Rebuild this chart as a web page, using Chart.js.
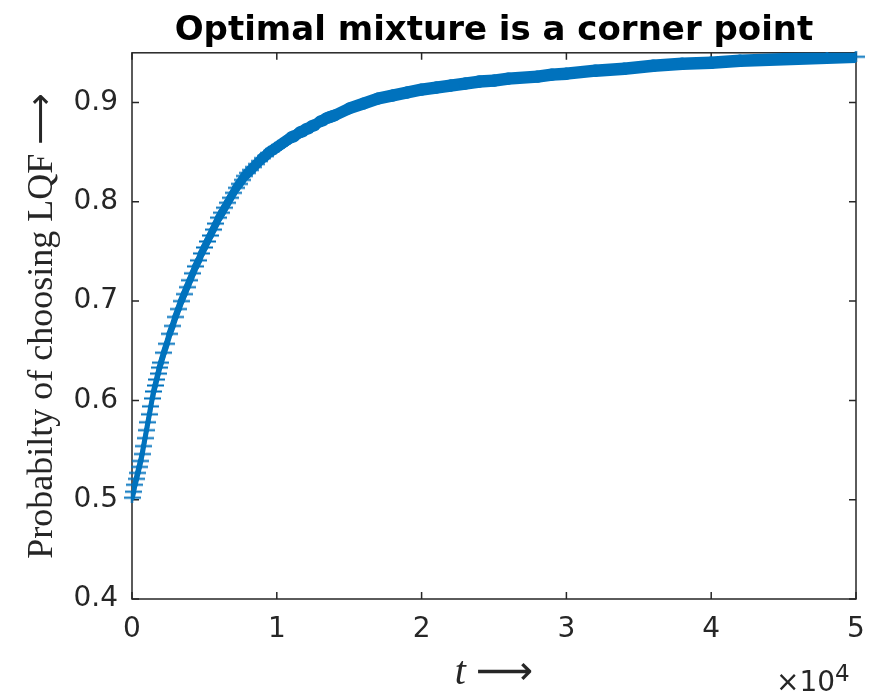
<!DOCTYPE html>
<html>
<head>
<meta charset="utf-8">
<script src="https://cdn.jsdelivr.net/npm/chart.js@4.4.1/dist/chart.umd.min.js"></script>
<style>
  html, body { margin: 0; padding: 0; background: #fff; }
  canvas { display: block; }
</style>
</head>
<body>
<canvas id="chart" width="884" height="694"></canvas>
<script>
// t values (iterations) and probability of choosing LQF
const tValues = [
  0, 100, 200, 300, 400, 500, 600, 700, 800, 900, 1000,
  1100, 1200, 1300, 1400, 1500, 1600, 1700, 1800, 1900, 2000,
  2200, 2400, 2600, 2800, 3000, 3200, 3400, 3600, 3800, 4000,
  4200, 4400, 4600, 4800, 5000, 5200, 5400, 5600, 5800, 6000,
  6200, 6400, 6600, 6800, 7000, 7200, 7400, 7600, 7800, 8000,
  8200, 8400, 8600, 8800, 9000, 9200, 9400, 9600, 9800, 10000,
  10200, 10400, 10600, 10800, 11000, 11200, 11400, 11600, 11800, 12000,
  12200, 12400, 12600, 12800, 13000, 13200, 13400, 13600, 13800, 14000,
  15000, 16000, 17000, 18000, 19000, 20000, 21000, 22000,
  23000, 24000, 25000, 26000, 27000, 28000, 29000, 30000,
  32000, 34000, 36000, 38000, 40000, 42000, 44000, 46000, 48000, 50000
];
const probLQF = [
  0.502, 0.508, 0.515, 0.521, 0.527, 0.533, 0.539, 0.546, 0.554, 0.562, 0.570,
  0.578, 0.586, 0.594, 0.602, 0.609, 0.615, 0.621, 0.627, 0.633, 0.638,
  0.648, 0.657, 0.667, 0.675, 0.684, 0.692, 0.700, 0.707, 0.714, 0.721,
  0.728, 0.735, 0.741, 0.748, 0.754, 0.760, 0.766, 0.772, 0.778, 0.784,
  0.789, 0.794, 0.799, 0.804, 0.809, 0.814, 0.818, 0.822, 0.826, 0.829,
  0.832, 0.835, 0.838, 0.841, 0.844, 0.846, 0.849, 0.851, 0.853, 0.855,
  0.857, 0.859, 0.861, 0.863, 0.865, 0.866, 0.868, 0.870, 0.871, 0.873,
  0.874, 0.876, 0.877, 0.879, 0.881, 0.882, 0.884, 0.885, 0.886, 0.887,
  0.894, 0.899, 0.904, 0.907, 0.910, 0.913, 0.915, 0.917,
  0.919, 0.921, 0.922, 0.924, 0.925, 0.926, 0.928, 0.929,
  0.932, 0.934, 0.937, 0.939, 0.940, 0.942, 0.943, 0.944, 0.945, 0.946
];
const xTicks = [0, 10000, 20000, 30000, 40000, 50000];
const yTicks = [0.4, 0.5, 0.6, 0.7, 0.8, 0.9];

const axisColor = "#262626";
const blue = "#0072bd";

const points = tValues.map((t, i) => ({ x: t, y: probLQF[i] }));

// '+' marker, wider than tall as in the exported figure
function makePlus(w, h, lw) {
  const c = document.createElement("canvas");
  c.width = w;
  c.height = h;
  const g = c.getContext("2d");
  g.strokeStyle = blue;
  g.lineWidth = lw;
  g.beginPath();
  g.moveTo(0, h / 2); g.lineTo(w, h / 2);
  g.moveTo(w / 2, 0); g.lineTo(w / 2, h);
  g.stroke();
  return c;
}
const plusMarker = makePlus(17, 11, 2);

// box around the plot with inward ticks on all four sides, plus the x10^4 note
const matlabAxes = {
  id: "matlabAxes",
  beforeDatasetsDraw(chart) {
    const { ctx, chartArea: a, scales } = chart;
    ctx.save();
    ctx.strokeStyle = axisColor;
    ctx.lineWidth = 1.5;
    ctx.strokeRect(a.left, a.top, a.right - a.left, a.bottom - a.top);
    ctx.beginPath();
    xTicks.forEach(v => {
      const px = scales.x.getPixelForValue(v);
      ctx.moveTo(px, a.bottom); ctx.lineTo(px, a.bottom - 7);
      ctx.moveTo(px, a.top); ctx.lineTo(px, a.top + 7);
    });
    yTicks.forEach(v => {
      const py = scales.y.getPixelForValue(v);
      ctx.moveTo(a.left, py); ctx.lineTo(a.left + 7, py);
      ctx.moveTo(a.right, py); ctx.lineTo(a.right - 7, py);
    });
    ctx.stroke();
    ctx.restore();
  },
  afterDraw(chart) {
    const { ctx } = chart;
    ctx.save();
    ctx.fillStyle = axisColor;
    ctx.textBaseline = "alphabetic";
    ctx.font = "28px 'DejaVu Sans'";
    ctx.fillText("\u00d710", 776, 691);
    const w = ctx.measureText("\u00d710").width;
    ctx.font = "23px 'DejaVu Sans'";
    ctx.fillText("4", 776 + w, 681);
    ctx.restore();
  }
};

new Chart(document.getElementById("chart"), {
  type: "scatter",
  data: {
    datasets: [
      {
        // solid band where the markers pile up
        data: points,
        showLine: true,
        pointRadius: 0,
        borderColor: blue,
        borderCapStyle: "round",
        borderJoinStyle: "round",
        segment: {
          borderWidth: ctx => {
            const dx = ctx.p1.x - ctx.p0.x;
            const dy = ctx.p1.y - ctx.p0.y;
            const len = Math.hypot(dx, dy) || 1;
            return 3.5 + 9 * Math.abs(dx) / len;
          }
        }
      },
      {
        data: points,
        showLine: false,
        pointStyle: plusMarker,
        pointRadius: 8,
        clip: false
      }
    ]
  },
  options: {
    responsive: false,
    animation: false,
    events: [],
    layout: { padding: { left: 0, right: 28, top: 0, bottom: 0 } },
    plugins: {
      legend: { display: false },
      tooltip: { enabled: false },
      title: {
        display: true,
        text: "Optimal mixture is a corner point",
        color: "#000",
        fullSize: false,
        font: { family: "DejaVu Sans", size: 34, weight: "bold" },
        padding: { top: 11, bottom: 1 }
      }
    },
    scales: {
      x: {
        type: "linear",
        min: 0,
        max: 50000,
        afterBuildTicks: s => { s.ticks = xTicks.map(v => ({ value: v })); },
        afterFit: s => { s.height = 95; },
        grid: { display: false, drawTicks: false },
        border: { display: false },
        ticks: {
          padding: 14,
          color: axisColor,
          maxRotation: 0,
          font: { family: "DejaVu Sans", size: 28 },
          callback: v => String(v / 10000)
        },
        title: {
          display: true,
          text: "t \u27f6",
          color: axisColor,
          font: { family: "'Liberation Serif', 'DejaVu Sans'", size: 40, style: "italic", lineHeight: 1 },
          padding: { top: 0, bottom: 1 }
        }
      },
      y: {
        min: 0.4,
        max: 0.95,
        afterBuildTicks: s => { s.ticks = yTicks.map(v => ({ value: v })); },
        afterFit: s => { s.width = 132; },
        grid: { display: false, drawTicks: false },
        border: { display: false },
        ticks: {
          padding: 14,
          color: axisColor,
          font: { family: "DejaVu Sans", size: 28 },
          callback: v => v.toFixed(1)
        },
        title: {
          display: true,
          text: "Probabilty of choosing LQF \u27f6",
          color: axisColor,
          font: { family: "'Liberation Serif', 'DejaVu Sans'", size: 36, lineHeight: 1 },
          padding: { top: 25, bottom: 0 }
        }
      }
    }
  },
  plugins: [matlabAxes]
});
</script>
</body>
</html>
